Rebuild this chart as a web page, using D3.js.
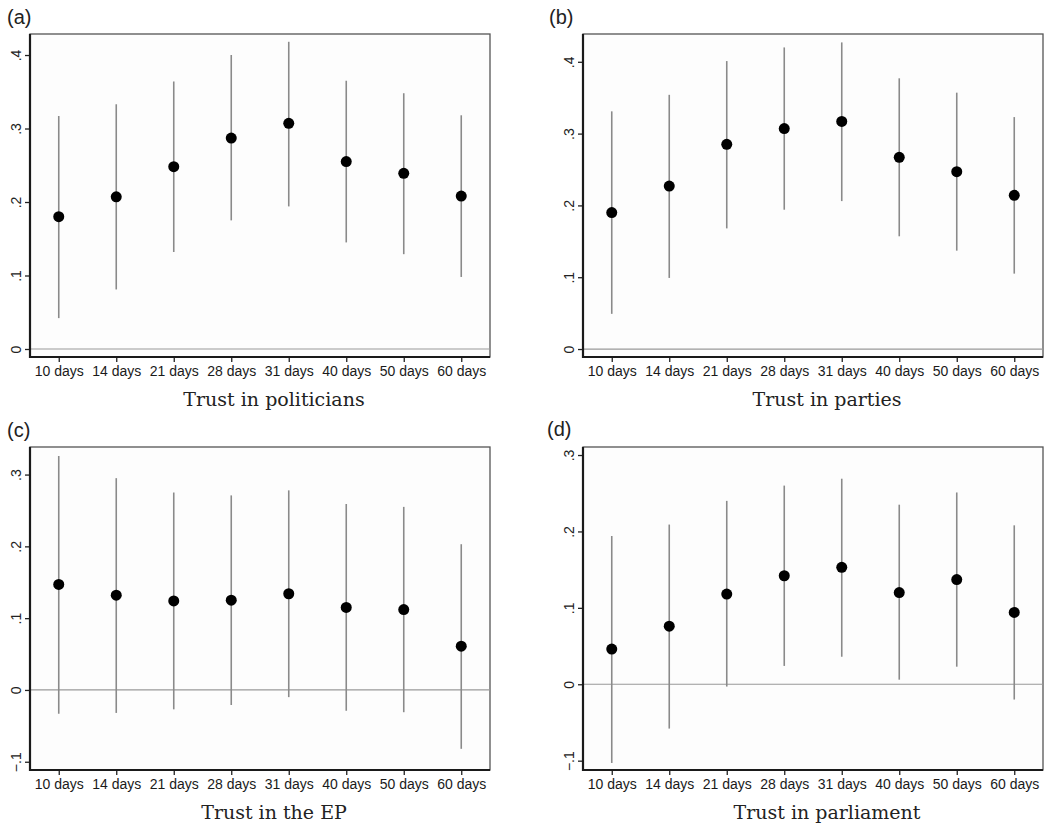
<!DOCTYPE html>
<html>
<head>
<meta charset="utf-8">
<script src="https://cdn.jsdelivr.net/npm/d3@7"></script>
<style>
  body { margin: 0; background: #fff; }
  svg { display: block; }
</style>
</head>
<body>
<svg id="chart" width="1047" height="826"></svg>
<script>
// Categories on the x axis (same for all four panels)
var days = ["10 days", "14 days", "21 days", "28 days", "31 days", "40 days", "50 days", "60 days"];

// (a) Trust in politicians
var politiciansEst = [0.180, 0.207, 0.248, 0.287, 0.307, 0.255, 0.239, 0.208];
var politiciansLo  = [0.042, 0.081, 0.132, 0.175, 0.194, 0.145, 0.129, 0.098];
var politiciansHi  = [0.317, 0.333, 0.364, 0.400, 0.418, 0.365, 0.348, 0.318];

// (b) Trust in parties
var partiesEst = [0.190, 0.227, 0.285, 0.307, 0.317, 0.267, 0.247, 0.214];
var partiesLo  = [0.049, 0.099, 0.168, 0.194, 0.206, 0.157, 0.137, 0.105];
var partiesHi  = [0.331, 0.354, 0.401, 0.420, 0.427, 0.377, 0.357, 0.323];

// (c) Trust in the EP
var epEst = [0.147, 0.132, 0.124, 0.125, 0.134, 0.115, 0.112, 0.061];
var epLo  = [-0.033, -0.032, -0.027, -0.021, -0.010, -0.029, -0.031, -0.082];
var epHi  = [0.326, 0.295, 0.275, 0.271, 0.278, 0.259, 0.255, 0.203];

// (d) Trust in parliament
var parliamentEst = [0.046, 0.076, 0.118, 0.142, 0.153, 0.120, 0.137, 0.094];
var parliamentLo  = [-0.103, -0.058, -0.003, 0.024, 0.036, 0.006, 0.023, -0.020];
var parliamentHi  = [0.194, 0.209, 0.240, 0.260, 0.269, 0.235, 0.251, 0.208];

// y tick values
var ticksTop = [0, 0.1, 0.2, 0.3, 0.4];
var ticksBottom = [-0.1, 0, 0.1, 0.2, 0.3];

// Axis ranges (Stata pads the range a little beyond the data)
var domainA = [-0.0109, 0.4286];
var domainB = [-0.0111, 0.4387];
var domainC = [-0.1115, 0.3384];
var domainD = [-0.1122, 0.3105];

var panels = [
    {tag: "(a)", title: "Trust in politicians", est: politiciansEst, lo: politiciansLo, hi: politiciansHi, ticks: ticksTop, domain: domainA, left: 30, top: 34, tagX: 7, tagY: 24},
    {tag: "(b)", title: "Trust in parties", est: partiesEst, lo: partiesLo, hi: partiesHi, ticks: ticksTop, domain: domainB, left: 583, top: 34, tagX: 549, tagY: 24},
    {tag: "(c)", title: "Trust in the EP", est: epEst, lo: epLo, hi: epHi, ticks: ticksBottom, domain: domainC, left: 30, top: 447, tagX: 7, tagY: 437},
    {tag: "(d)", title: "Trust in parliament", est: parliamentEst, lo: parliamentLo, hi: parliamentHi, ticks: ticksBottom, domain: domainD, left: 583, top: 447, tagX: 547, tagY: 436}
];

var width = 460, height = 323;
var svg = d3.select("#chart");

// stata style tick labels: .1, -.1, 0
var fmt = function(v) {
    if (Math.abs(v) < 1e-9) return "0";
    return d3.format(".1f")(v).replace("0.", ".");
};

panels.forEach(function(p) {

    var g = svg.append("g").attr("transform", "translate(" + p.left + "," + p.top + ")");

    var x = d3.scalePoint().domain(days).range([0, width]).padding(0.5);
    var y = d3.scaleLinear().domain(p.domain).range([height, 0]);

    var rows = days.map(function(d, i) { return {day: d, est: p.est[i], lo: p.lo[i], hi: p.hi[i]}; });

    // plot region outline (top / right are lighter)
    g.append("rect")
        .attr("x", 0).attr("y", 0)
        .attr("width", width).attr("height", height)
        .style("fill", "#fdfdfd")
        .style("stroke", "#555")
        .style("stroke-width", 1.3);

    // zero reference line
    g.append("line")
        .attr("x1", 0).attr("x2", width)
        .attr("y1", y(0)).attr("y2", y(0))
        .style("stroke", "#999")
        .style("stroke-width", 1.2);

    // confidence intervals
    g.selectAll(".ci")
        .data(rows)
        .enter()
        .append("line")
        .attr("class", "ci")
        .attr("x1", function(d) { return x(d.day); })
        .attr("x2", function(d) { return x(d.day); })
        .attr("y1", function(d) { return y(d.lo); })
        .attr("y2", function(d) { return y(d.hi); })
        .style("stroke", "#8a8a8a")
        .style("stroke-width", 1.6);

    // point estimates
    g.selectAll(".pt")
        .data(rows)
        .enter()
        .append("circle")
        .attr("class", "pt")
        .attr("cx", function(d) { return x(d.day); })
        .attr("cy", function(d) { return y(d.est); })
        .attr("r", 5.5)
        .style("fill", "#000");

    // left axis
    var yAxis = g.append("g")
        .call(d3.axisLeft(y).tickValues(p.ticks).tickSize(5).tickFormat(fmt));
    yAxis.select(".domain").remove();
    yAxis.selectAll(".tick line").style("stroke", "#222").style("stroke-width", 1.3);
    yAxis.selectAll(".tick text")
        .attr("x", 0).attr("y", 0).attr("dy", 0)
        .attr("transform", "translate(-9,0) rotate(-90)")
        .style("text-anchor", "middle")
        .style("font-family", "Liberation Sans, Arial, sans-serif")
        .style("font-size", "14px")
        .style("fill", "#222");
    g.append("line")
        .attr("x1", 0).attr("x2", 0).attr("y1", 0).attr("y2", height + 1)
        .style("stroke", "#1a1a1a").style("stroke-width", 2.2);

    // bottom axis
    var xAxis = g.append("g")
        .attr("transform", "translate(0," + height + ")")
        .call(d3.axisBottom(x).tickSize(5).tickPadding(4));
    xAxis.select(".domain").remove();
    xAxis.selectAll(".tick line").style("stroke", "#222").style("stroke-width", 1.3);
    xAxis.selectAll(".tick text")
        .style("font-family", "Liberation Sans, Arial, sans-serif")
        .style("font-size", "14px")
        .style("fill", "#1a1a1a");
    g.append("line")
        .attr("x1", -1).attr("x2", width).attr("y1", height).attr("y2", height)
        .style("stroke", "#1a1a1a").style("stroke-width", 2.2);

    // axis title
    g.append("text")
        .attr("x", width / 2 + 14)
        .attr("y", height + 49)
        .attr("text-anchor", "middle")
        .style("font-family", "DejaVu Serif, Liberation Serif, serif")
        .style("font-size", "19px")
        .style("fill", "#222")
        .text(p.title);

    // panel tag
    svg.append("text")
        .attr("x", p.tagX)
        .attr("y", p.tagY)
        .style("font-family", "Liberation Sans, Arial, sans-serif")
        .style("font-size", "20px")
        .style("fill", "#222")
        .text(p.tag);
});
</script>
</body>
</html>
